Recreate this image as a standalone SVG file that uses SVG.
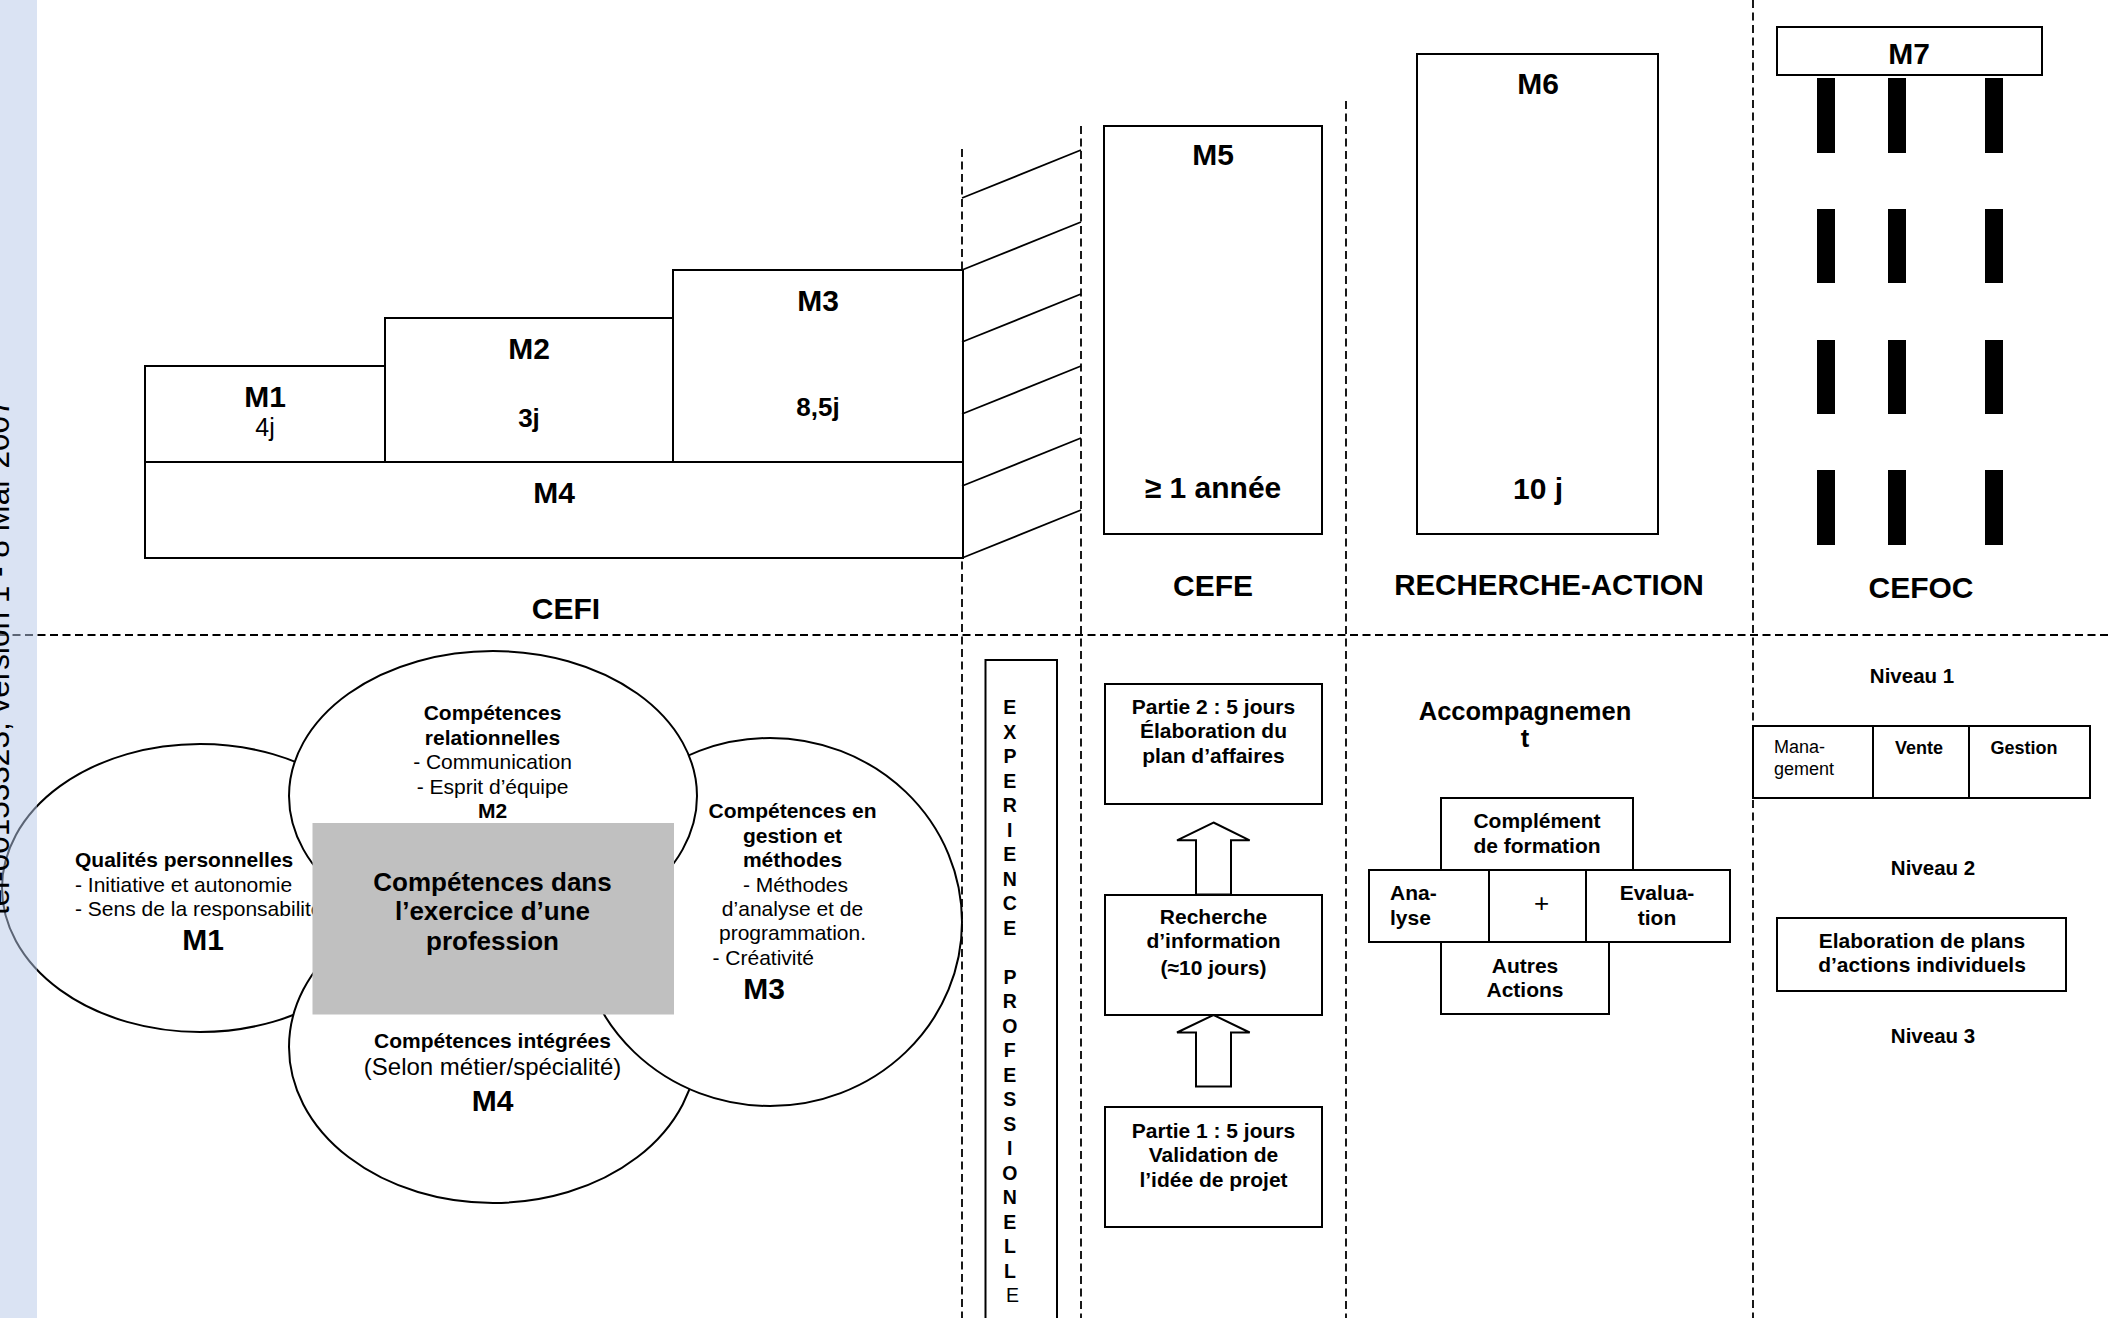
<svg xmlns="http://www.w3.org/2000/svg" width="2112" height="1318" viewBox="0 0 2112 1318">
<style>
  text { font-family: "Liberation Sans", Arial, sans-serif; fill: #000; }
  .b { font-weight: bold; }
  .c { text-anchor: middle; }
  .box { fill: #fff; stroke: #000; stroke-width: 2; }
  .ell { fill: #fff; stroke: #000; stroke-width: 2; }
  .dash { fill: none; stroke: #000; stroke-width: 1.8; stroke-dasharray: 8 4.5; }
  .hatch { fill: none; stroke: #000; stroke-width: 1.8; }
  .bar { fill: #000; }
  .arrow { fill: #fff; stroke: #000; stroke-width: 2; stroke-linejoin: miter; }
  .s30 { font-size: 30px; }
  .s26 { font-size: 26px; }
  .s21 { font-size: 21px; }
  .s20 { font-size: 20.5px; }
  .s18 { font-size: 18px; }
</style>
<rect x="0" y="0" width="2112" height="1318" fill="#fff"/>

<!-- separators -->
<g id="separators">
  <line class="dash" x1="0" y1="635" x2="2112" y2="635"/>
  <line class="dash" x1="962" y1="149" x2="962" y2="1318"/>
  <line class="dash" x1="1081" y1="126" x2="1081" y2="1318"/>
  <line class="dash" x1="1346" y1="101" x2="1346" y2="1318"/>
  <line class="dash" x1="1753" y1="0" x2="1753" y2="1318"/>
</g>

<!-- CEFI blocks -->
<g id="cefi-m1">
  <rect class="box" x="145" y="366" width="240" height="96"/>
  <text class="b c s30" x="265" y="407">M1</text>
  <text class="c" x="265" y="436" font-size="25">4j</text>
</g>
<g id="cefi-m2">
  <rect class="box" x="385" y="318" width="288" height="144"/>
  <text class="b c s30" x="529" y="359">M2</text>
  <text class="b c s26" x="529" y="427">3j</text>
</g>
<g id="cefi-m3">
  <rect class="box" x="673" y="270" width="290" height="192"/>
  <text class="b c s30" x="818" y="311">M3</text>
  <text class="b c s26" x="818" y="416">8,5j</text>
</g>
<g id="cefi-m4">
  <rect class="box" x="145" y="462" width="818" height="96"/>
  <text class="b c s30" x="554" y="503">M4</text>
</g>
<g id="label-cefi"><text class="b c s30" x="566" y="619">CEFI</text></g>

<!-- hatch between CEFI and CEFE -->
<g id="hatch">
  <line class="hatch" x1="962" y1="198" x2="1081" y2="150"/>
  <line class="hatch" x1="962" y1="270" x2="1081" y2="222"/>
  <line class="hatch" x1="962" y1="342" x2="1081" y2="294"/>
  <line class="hatch" x1="962" y1="414" x2="1081" y2="366"/>
  <line class="hatch" x1="962" y1="486" x2="1081" y2="438"/>
  <line class="hatch" x1="962" y1="558" x2="1081" y2="510"/>
</g>

<!-- CEFE -->
<g id="cefe-m5">
  <rect class="box" x="1104" y="126" width="218" height="408"/>
  <text class="b c s30" x="1213" y="165">M5</text>
  <text class="b c s30" x="1213" y="498">≥ 1 année</text>
</g>
<g id="label-cefe"><text class="b c s30" x="1213" y="596">CEFE</text></g>

<!-- Recherche-action -->
<g id="ra-m6">
  <rect class="box" x="1417" y="54" width="241" height="480"/>
  <text class="b c s30" x="1538" y="94">M6</text>
  <text class="b c s30" x="1538" y="499">10 j</text>
</g>
<g id="label-ra"><text class="b c" x="1549" y="595" font-size="29.5">RECHERCHE-ACTION</text></g>

<!-- CEFOC -->
<g id="cefoc-m7">
  <rect class="box" x="1777" y="27" width="265" height="48"/>
  <text class="b c s30" x="1909" y="64">M7</text>
  <rect class="bar" x="1817" y="78" width="18" height="75"/>
  <rect class="bar" x="1888" y="78" width="18" height="75"/>
  <rect class="bar" x="1985" y="78" width="18" height="75"/>
  <rect class="bar" x="1817" y="209" width="18" height="74"/>
  <rect class="bar" x="1888" y="209" width="18" height="74"/>
  <rect class="bar" x="1985" y="209" width="18" height="74"/>
  <rect class="bar" x="1817" y="340" width="18" height="74"/>
  <rect class="bar" x="1888" y="340" width="18" height="74"/>
  <rect class="bar" x="1985" y="340" width="18" height="74"/>
  <rect class="bar" x="1817" y="470" width="18" height="75"/>
  <rect class="bar" x="1888" y="470" width="18" height="75"/>
  <rect class="bar" x="1985" y="470" width="18" height="75"/>
</g>
<g id="label-cefoc"><text class="b c s30" x="1921" y="598">CEFOC</text></g>

<!-- Competence circles -->
<g id="circle-m1">
  <ellipse class="ell" cx="200" cy="888" rx="198" ry="144"/>
</g>
<g id="circle-m4">
  <ellipse class="ell" cx="493" cy="1047" rx="204" ry="156"/>
</g>
<g id="circle-m3">
  <ellipse class="ell" cx="770" cy="922" rx="192" ry="184"/>
</g>
<g id="circle-m2">
  <ellipse class="ell" cx="493" cy="796" rx="204" ry="145"/>
</g>
<g id="circle-texts">
  <text class="b c s21" x="492.5" y="720">Compétences</text>
  <text class="b c s21" x="492.5" y="744.5">relationnelles</text>
  <text class="c s21" x="492.5" y="769">- Communication</text>
  <text class="c s21" x="492.5" y="793.5">- Esprit d’équipe</text>
  <text class="b c s21" x="492.5" y="818">M2</text>

  <text class="b s21" x="75" y="867">Qualités personnelles</text>
  <text class="s21" x="75" y="891.5">- Initiative et autonomie</text>
  <text class="s21" x="75" y="916">- Sens de la responsabilité</text>
  <text class="b c s30" x="203" y="950">M1</text>

  <text class="b c s21" x="792.5" y="818">Compétences en</text>
  <text class="b c s21" x="792.5" y="842.5">gestion et</text>
  <text class="b c s21" x="792.5" y="867">méthodes</text>
  <text class="c s21" x="795.5" y="891.5">- Méthodes</text>
  <text class="c s21" x="792.5" y="916">d’analyse et de</text>
  <text class="c s21" x="792.5" y="940">programmation.</text>
  <text class="s21" x="712.5" y="965">- Créativité</text>
  <text class="b c s30" x="764" y="999">M3</text>

  <text class="b c s21" x="492.5" y="1048">Compétences intégrées</text>
  <text class="c" x="492.5" y="1075" font-size="24">(Selon métier/spécialité)</text>
  <text class="b c s30" x="492.5" y="1111">M4</text>
</g>
<g id="center-box">
  <rect x="312.5" y="823" width="361.5" height="191.5" fill="#c0c0c0"/>
  <text class="b c s26" x="492.5" y="890.5">Compétences dans</text>
  <text class="b c s26" x="492.5" y="920">l’exercice d’une</text>
  <text class="b c s26" x="492.5" y="950">profession</text>
</g>

<!-- Experience professionnelle -->
<g id="experience">
  <rect class="box" x="985.5" y="660" width="71.5" height="700"/>
  <text class="b c" x="1012.5" y="714" font-size="19.5">
    <tspan x="1012.5" y="714">E</tspan>
    <tspan x="1012.5" y="738.5">X</tspan>
    <tspan x="1012.5" y="763">P</tspan>
    <tspan x="1012.5" y="787.5">E</tspan>
    <tspan x="1012.5" y="812">R</tspan>
    <tspan x="1012.5" y="836.5">I</tspan>
    <tspan x="1012.5" y="861">E</tspan>
    <tspan x="1012.5" y="885.5">N</tspan>
    <tspan x="1012.5" y="910">C</tspan>
    <tspan x="1012.5" y="934.5">E</tspan>
    <tspan x="1012.5" y="983.5">P</tspan>
    <tspan x="1012.5" y="1008">R</tspan>
    <tspan x="1012.5" y="1032.5">O</tspan>
    <tspan x="1012.5" y="1057">F</tspan>
    <tspan x="1012.5" y="1081.5">E</tspan>
    <tspan x="1012.5" y="1106">S</tspan>
    <tspan x="1012.5" y="1130.5">S</tspan>
    <tspan x="1012.5" y="1155">I</tspan>
    <tspan x="1012.5" y="1179.5">O</tspan>
    <tspan x="1012.5" y="1204">N</tspan>
    <tspan x="1012.5" y="1228.5">E</tspan>
    <tspan x="1012.5" y="1253">L</tspan>
    <tspan x="1012.5" y="1277.5">L</tspan>
    <tspan x="1012.5" y="1302" font-weight="normal">E</tspan>
  </text>
</g>

<!-- CEFE steps -->
<g id="cefe-partie2">
  <rect class="box" x="1105" y="684" width="217" height="120"/>
  <text class="b c s21" x="1213.5" y="713.5">Partie 2 : 5 jours</text>
  <text class="b c s21" x="1213.5" y="738">Élaboration du</text>
  <text class="b c s21" x="1213.5" y="762.5">plan d’affaires</text>
</g>
<g id="cefe-recherche">
  <rect class="box" x="1105" y="895" width="217" height="120"/>
  <text class="b c s21" x="1213.5" y="923.5">Recherche</text>
  <text class="b c s21" x="1213.5" y="948">d’information</text>
  <text class="b c s21" x="1213.5" y="974.5">(≈10 jours)</text>
</g>
<g id="cefe-partie1">
  <rect class="box" x="1105" y="1107" width="217" height="120"/>
  <text class="b c s21" x="1213.5" y="1137.5">Partie 1 : 5 jours</text>
  <text class="b c s21" x="1213.5" y="1162">Validation de</text>
  <text class="b c s21" x="1213.5" y="1186.5">l’idée de projet</text>
</g>

<g id="connectors">
  <polygon class="arrow" points="1213.5,822.5 1249.7,840.3 1231,840.3 1231,894.5 1196,894.5 1196,840.3 1177,840.3"/>
  <polygon class="arrow" points="1213.5,1015 1249.7,1032.5 1231,1032.5 1231,1086.5 1196,1086.5 1196,1032.5 1177,1032.5"/>
  <polyline class="arrow" fill="none" points="1490,884 1506.7,884 1506.7,870 1513.3,897.3 1506.7,924.5 1506.7,910.7 1490,910.7"/>
  <polyline class="arrow" fill="none" points="1579.3,870 1586,897.3 1579.3,924.5 1579.3,910.7 1561,910.7 1561,884 1579.3,884 1579.3,870"/>
</g>

<!-- Accompagnement -->
<g id="label-accompagnement">
  <text class="b c" x="1525" y="720" font-size="25.5">Accompagnemen</text>
  <text class="b c" x="1525" y="747" font-size="25.5">t</text>
</g>
<g id="acc-complement">
  <rect class="box" x="1441" y="798" width="192" height="72"/>
  <text class="b c s21" x="1537" y="828">Complément</text>
  <text class="b c s21" x="1537" y="852.5">de formation</text>
</g>
<g id="acc-analyse">
  <rect class="box" x="1369" y="870" width="120" height="72"/>
  <text class="b s21" x="1390" y="900">Ana-</text>
  <text class="b s21" x="1390" y="925">lyse</text>
</g>
<g id="acc-centre">
  <rect class="box" x="1489" y="870" width="97" height="72"/>
  <text class="c" x="1541.7" y="912" font-size="26">+</text>
</g>
<g id="acc-evaluation">
  <rect class="box" x="1586" y="870" width="144" height="72"/>
  <text class="b c s21" x="1657" y="900">Evalua-</text>
  <text class="b c s21" x="1657" y="925">tion</text>
</g>
<g id="acc-autres">
  <rect class="box" x="1441" y="942" width="168" height="72"/>
  <text class="b c s21" x="1525" y="973">Autres</text>
  <text class="b c s21" x="1525" y="997">Actions</text>
</g>

<!-- CEFOC levels -->
<g id="niveau1">
  <text class="b c s20" x="1912" y="683">Niveau 1</text>
</g>
<g id="table-niveau1">
  <rect class="box" x="1753" y="726" width="337" height="72"/>
  <line x1="1873" y1="726" x2="1873" y2="798" stroke="#000" stroke-width="2"/>
  <line x1="1969" y1="726" x2="1969" y2="798" stroke="#000" stroke-width="2"/>
  <text class="s18" x="1774" y="753">Mana-</text>
  <text class="s18" x="1774" y="775">gement</text>
  <text class="b c s18" x="1919" y="754">Vente</text>
  <text class="b c s18" x="2024" y="754">Gestion</text>
</g>
<g id="niveau2">
  <text class="b c s20" x="1933" y="875">Niveau 2</text>
</g>
<g id="plans">
  <rect class="box" x="1777" y="918" width="289" height="73"/>
  <text class="b c s21" x="1922" y="948">Elaboration de plans</text>
  <text class="b c s21" x="1922" y="972">d’actions individuels</text>
</g>
<g id="niveau3">
  <text class="b c s20" x="1933" y="1043">Niveau 3</text>
</g>

<!-- side band -->
<g id="sidebar">
  <rect x="0" y="0" width="37" height="1318" fill="#b5c7e7" fill-opacity="0.5"/>
  <text transform="translate(9,915) rotate(-90)" font-size="31.5" fill="#8c95a4">tel-00153323, version 1 - 8 Mar 2007</text>
</g>
</svg>
